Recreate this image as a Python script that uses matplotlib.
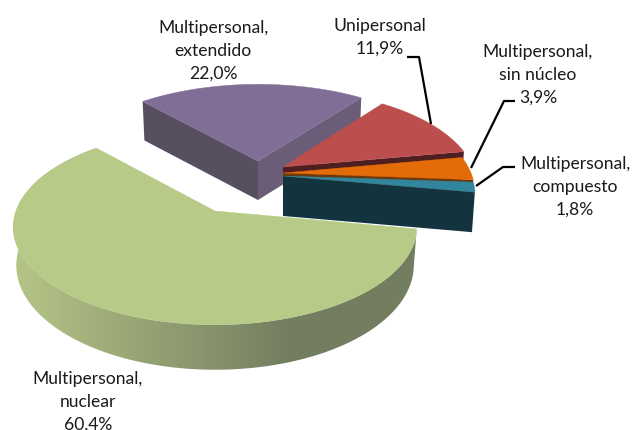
import numpy as np
import matplotlib
matplotlib.use("Agg")
import matplotlib.pyplot as plt
from matplotlib.patches import Polygon

# ================= DATA =================
categories = ["Unipersonal", "Multipersonal,\nsin núcleo", "Multipersonal,\ncompuesto",
              "Multipersonal,\nnuclear", "Multipersonal,\nextendido"]
shares = [11.9, 3.9, 1.8, 60.4, 22.0]
value_labels = ["11,9%", "3,9%", "1,8%", "60,4%", "22,0%"]

# ================= LOOK =================
W, H = 632, 431
START = -52.8   # first slice, degrees clockwise from the right
INSET = 0.985   # bottom rim is a bit narrower

# center x, center y, radius x, radius y, perspective, depth, y stretch of bottom rim
geometry = [
    (283, 168, 190, 92, 0.2, 40, 1.0),
    (283, 174, 188, 93, 0.2, 40, 1.0),
    (283, 177, 188, 85, 0.2, 40, 1.0),
    (215, 212, 199, 95, 0.165, 37, 1.07),
    (258, 162, 198, 92, 0.2, 39, 1.0),
]
top_colors = ["#BC4F4E", "#E36C09", "#31859C", "#B7CA88", "#806E96"]
end_colors = ["#4F1E20", "#6B3A0C", "#13343F", "#748063", "#6B5D78"]
start_colors = ["#4F1E20", "#6B3A0C", "#13343F", "#748063", "#574F60"]

label_pos = [(380, 37), (538, 75), (575, 187), (88, 402), (213, 51)]
leaders = [
    [(407, 58), (419, 58), (431, 125)],
    [(515, 102), (504, 102), (471, 169)],
    [(515, 168), (503, 168), (476, 187)],
]


def project(g, phi):
    cx, cy, rx, ry, p, _, _ = g
    a = np.radians(phi)
    s = 1 / (1 - p * np.sin(a))
    return cx + rx * np.cos(a) * s, cy + ry * np.sin(a) * s


def lower(g, x, y):
    cx, cy, _, _, _, d, f = g
    return cx + (x - cx) * INSET, cy + d + (y - cy) * f


fig = plt.figure(figsize=(W / 100, H / 100), dpi=100)
ax = fig.add_axes([0, 0, 1, 1])
ax.axis("off")

# cumulative angles from the shares
edges = START + np.cumsum([0] + shares) * 360 / sum(shares)

# ================= DRAW ORDER: back to front =================
for i in [4, 3, 0, 1, 2]:
    g = geometry[i]
    a0, a1 = edges[i], edges[i + 1]
    phis = np.linspace(a0, a1, 160)
    xs, ys = project(g, phis)
    lx, ly = lower(g, xs, ys)
    cx, cy = g[0], g[1]
    blx, bly = lower(g, cx, cy)

    # cut faces
    if i == 4:
        ax.add_patch(Polygon([(cx, cy), (xs[0], ys[0]), (lx[0], ly[0]), (blx, bly)],
                             fc=start_colors[i], ec="none", zorder=i))
        ax.add_patch(Polygon([(cx, cy), (xs[-1], ys[-1]), (lx[-1], ly[-1]), (blx, bly)],
                             fc=end_colors[i], ec="none", zorder=i))
    elif i != 3:
        ax.add_patch(Polygon([(cx, cy), (xs[-1], ys[-1]), (lx[-1], ly[-1]), (blx, bly)],
                             fc=end_colors[i], ec="none", zorder=10 + i))
    z = 10 + i if i != 3 else 3

    # outer wall of the big slice, shaded by x
    if i == 3:
        light = np.array([181, 197, 135]) / 255
        dark = np.array([115, 125, 96]) / 255
        t = np.clip((np.arange(W) - 15) / 275, 0, 1)[None, :, None]
        img = ax.imshow(light + (dark - light) * t, extent=(0, W, H, 0),
                        aspect="auto", zorder=z)
        wall = Polygon(np.r_[np.c_[xs, ys], np.c_[lx, ly][::-1]], fc="none", ec="none",
                       transform=ax.transData)
        ax.add_patch(wall)
        img.set_clip_path(wall)

    # top
    ax.add_patch(Polygon(np.r_[[(cx, cy)], np.c_[xs, ys]], fc=top_colors[i],
                         ec=top_colors[i], lw=0.3, zorder=z + 0.5))

# ================= LABELS =================
for name, val, (x, y) in zip(categories, value_labels, label_pos):
    ax.text(x, y, name + "\n" + val, ha="center", va="center", fontsize=12.6,
            family="Lato", color="#1a1a1a", linespacing=1.5, zorder=30)

for pts in leaders:
    arr = np.array(pts)
    ax.plot(arr[:, 0], arr[:, 1], color="black", lw=1.6, zorder=25, solid_capstyle="butt")

ax.set_xlim(0, W)
ax.set_ylim(H, 0)
fig.savefig("out.png", dpi=100, facecolor="white")
